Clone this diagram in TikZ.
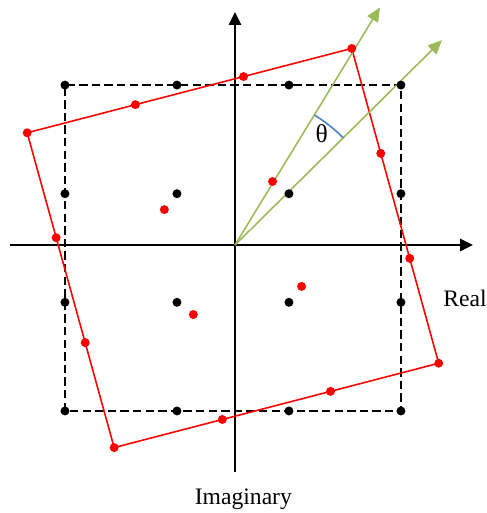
\documentclass[tikz,border=0pt]{standalone}
\usepackage{fontspec}
\setmainfont{Liberation Serif}
\usetikzlibrary{arrows.meta, calc}
\definecolor{cgreen}{HTML}{9BBB59}
\definecolor{cblue}{HTML}{4F81BD}
\definecolor{cred}{HTML}{FF0000}
\tikzset{
  every picture/.style={font=\rmfamily\fontsize{12}{14}\selectfont, line width=0.7pt},
  axis/.style={-{Triangle[length=2.3mm, width=2.2mm]}, line width=0.75pt},
  vec/.style={-{Triangle[length=2.5mm, width=2.2mm]}, draw=cgreen, line width=0.8pt},
  dot/.style={circle, fill=#1, inner sep=0pt, minimum size=1.6mm},
  dot/.default=black,
  frame/.style={dash pattern=on 1.5mm off 0.75mm, line width=0.7pt},
  rotframe/.style={draw=cred, line width=0.8pt},
}
\begin{document}
\begin{tikzpicture}
  \useasboundingbox (-4.196,-4.786) rectangle (4.5,4.375);
  % axes
  \coordinate (o) at (0,0);
  \coordinate (xl) at (-4.02,0);
  \coordinate (xr) at (4.25,0);
  \coordinate (yb) at (0,-4.05);
  \coordinate (yt) at (0,4.16);
  \draw[axis] (xl) -- (xr);
  \draw[axis] (yb) -- (yt);
  % 16-QAM grid and its rotated copy
  \begin{scope}[shift={(-0.036,-0.054)}, yscale=0.97]
    \foreach \x [count=\i] in {-3,-1,1,3} \foreach \y [count=\j] in {-3,-1,1,3}
      \coordinate (b\i\j) at (\x,\y);
    \begin{scope}[rotate=15]
      \foreach \x [count=\i] in {-3,-1,1,3} \foreach \y [count=\j] in {-3,-1,1,3}
        \coordinate (r\i\j) at (\x,\y);
    \end{scope}
  \end{scope}
  \draw[frame] (b11) rectangle (b44);
  \draw[rotframe] (r11) -- (r41) -- (r44) -- (r14) -- cycle;
  % rotation vectors
  \coordinate (v1) at (44.7:5.2);
  \coordinate (v2) at (58.6:4.97);
  \draw[vec] (o) -- (v1);
  \draw[vec] (o) -- (v2);
  \coordinate (a1) at (44.7:2.72);
  \draw[cblue, line width=0.8pt] (a1) arc[start angle=44.7, end angle=58.6, radius=2.72];
  \node[font=\fontsize{13}{15}\selectfont] (theta) at (1.55,1.99) {θ};
  % constellation points
  \foreach \i in {1,...,4} \foreach \j in {1,...,4} {
    \node[dot] (bd\i\j) at (b\i\j) {};
    \node[dot=cred] (rd\i\j) at (r\i\j) {};
  }
  \node[anchor=base west, inner sep=0pt] (real) at (3.71,-1.09) {Real};
  \node[anchor=base, inner sep=0pt] (imag) at (0.15,-4.63) {Imaginary};
\end{tikzpicture}
\end{document}
